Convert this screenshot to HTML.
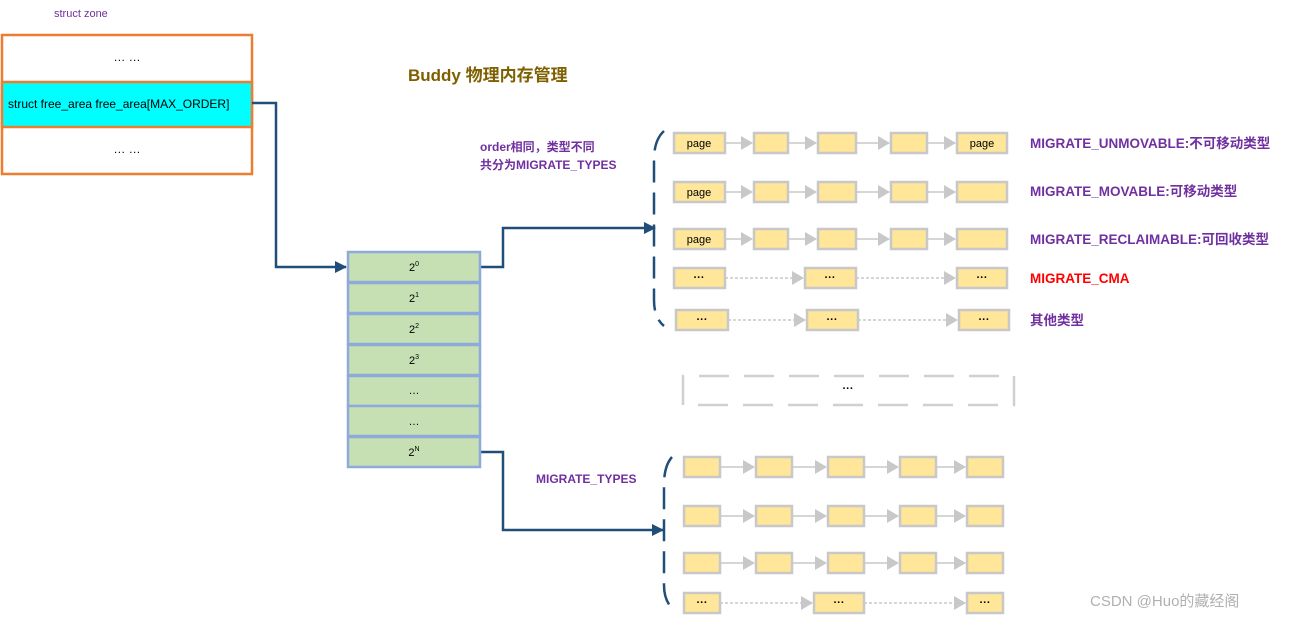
<!DOCTYPE html>
<html><head><meta charset="utf-8"><style>
html,body{margin:0;padding:0;background:#fff;width:1292px;height:618px;overflow:hidden}
text{font-family:"Liberation Sans","Noto Sans CJK SC",sans-serif}
</style></head><body>
<svg width="1292" height="618" viewBox="0 0 1292 618" xmlns="http://www.w3.org/2000/svg">
<defs>
<marker id="ab" markerWidth="12" markerHeight="12" refX="11" refY="6" orient="auto" markerUnits="userSpaceOnUse"><path d="M0,0 L12,6 L0,12 z" fill="#1f4e79"/></marker>
<marker id="ag" markerWidth="12" markerHeight="14" refX="11" refY="7" orient="auto" markerUnits="userSpaceOnUse"><path d="M0,0 L12,7 L0,14 z" fill="#c8c8c8"/></marker>
</defs>
<text x="54" y="17" font-size="11" fill="#7030a0">struct zone</text>
<rect x="2" y="35" width="250" height="139" fill="#fff" stroke="#ed7d31" stroke-width="2.5"/>
<rect x="2" y="82" width="250" height="45" fill="#00ffff" stroke="#ed7d31" stroke-width="2.5"/>
<text x="127" y="61" font-size="12" text-anchor="middle">… …</text>
<text x="127" y="153" font-size="12" text-anchor="middle">… …</text>
<text x="8" y="108" font-size="12">struct free_area  free_area[MAX_ORDER]</text>
<text x="408" y="81" font-size="17" font-weight="bold" fill="#7f6000">Buddy 物理内存管理</text>
<text x="480" y="151" font-size="12" font-weight="bold" fill="#7030a0">order相同，类型不同</text>
<text x="480" y="169" font-size="12" font-weight="bold" fill="#7030a0">共分为MIGRATE_TYPES</text>
<text x="536" y="483" font-size="12" font-weight="bold" fill="#7030a0">MIGRATE_TYPES</text>
<g fill="none" stroke="#1f4e79" stroke-width="2.5">
<path d="M252,103 H276 V267 H346" marker-end="url(#ab)"/>
<path d="M480,267 H503 V228 H655" marker-end="url(#ab)"/>
<path d="M480,452 H503 V530 H663" marker-end="url(#ab)"/>
<path d="M664,131 Q654,140 654,160 V300 Q654,318 664,326" stroke-dasharray="22,10"/>
<path d="M672,457 Q664,466 664,485 V585 Q664,600 672,608" stroke-dasharray="22,10"/>
</g>
<g stroke="#8eaadb" stroke-width="2.5" fill="#c6e0b4">
<rect x="348" y="252" width="132" height="30"/><rect x="348" y="283" width="132" height="30"/>
<rect x="348" y="314" width="132" height="30"/><rect x="348" y="345" width="132" height="30"/>
<rect x="348" y="376" width="132" height="30"/><rect x="348" y="406" width="132" height="30"/>
<rect x="348" y="437" width="132" height="30"/>
</g>
<g font-size="11" text-anchor="middle">
<text x="414" y="271">2<tspan font-size="7" dy="-5">0</tspan></text>
<text x="414" y="302">2<tspan font-size="7" dy="-5">1</tspan></text>
<text x="414" y="333">2<tspan font-size="7" dy="-5">2</tspan></text>
<text x="414" y="364">2<tspan font-size="7" dy="-5">3</tspan></text>
<text x="414" y="394">…</text><text x="414" y="425">…</text>
<text x="414" y="456">2<tspan font-size="7" dy="-5">N</tspan></text>
</g>
<g stroke="#c8c8c8" stroke-width="1.5" fill="none">
<path d="M725,143H752" marker-end="url(#ag)"/><path d="M788,143H816" marker-end="url(#ag)"/><path d="M856,143H889" marker-end="url(#ag)"/><path d="M927,143H955" marker-end="url(#ag)"/>
<path d="M725,192H752" marker-end="url(#ag)"/><path d="M788,192H816" marker-end="url(#ag)"/><path d="M856,192H889" marker-end="url(#ag)"/><path d="M927,192H955" marker-end="url(#ag)"/>
<path d="M725,239H752" marker-end="url(#ag)"/><path d="M788,239H816" marker-end="url(#ag)"/><path d="M856,239H889" marker-end="url(#ag)"/><path d="M927,239H955" marker-end="url(#ag)"/>
<path d="M725,278H803" stroke-dasharray="3,2" marker-end="url(#ag)"/><path d="M856,278H955" stroke-dasharray="3,2" marker-end="url(#ag)"/>
<path d="M728,320H805" stroke-dasharray="3,2" marker-end="url(#ag)"/><path d="M858,320H957" stroke-dasharray="3,2" marker-end="url(#ag)"/>
<path d="M720,467H754" marker-end="url(#ag)"/><path d="M792,467H826" marker-end="url(#ag)"/><path d="M864,467H898" marker-end="url(#ag)"/><path d="M936,467H965" marker-end="url(#ag)"/>
<path d="M720,516H754" marker-end="url(#ag)"/><path d="M792,516H826" marker-end="url(#ag)"/><path d="M864,516H898" marker-end="url(#ag)"/><path d="M936,516H965" marker-end="url(#ag)"/>
<path d="M720,563H754" marker-end="url(#ag)"/><path d="M792,563H826" marker-end="url(#ag)"/><path d="M864,563H898" marker-end="url(#ag)"/><path d="M936,563H965" marker-end="url(#ag)"/>
<path d="M720,603H812" stroke-dasharray="3,2" marker-end="url(#ag)"/><path d="M864,603H965" stroke-dasharray="3,2" marker-end="url(#ag)"/>
</g>
<g fill="#ffe699" stroke="#c8c8c8" stroke-width="2.5">
<rect x="674" y="133" width="51" height="20"/><rect x="754" y="133" width="34" height="20"/><rect x="818" y="133" width="38" height="20"/><rect x="891" y="133" width="36" height="20"/><rect x="957" y="133" width="50" height="20"/>
<rect x="674" y="182" width="51" height="20"/><rect x="754" y="182" width="34" height="20"/><rect x="818" y="182" width="38" height="20"/><rect x="891" y="182" width="36" height="20"/><rect x="957" y="182" width="50" height="20"/>
<rect x="674" y="229" width="51" height="20"/><rect x="754" y="229" width="34" height="20"/><rect x="818" y="229" width="38" height="20"/><rect x="891" y="229" width="36" height="20"/><rect x="957" y="229" width="50" height="20"/>
<rect x="674" y="268" width="51" height="20"/><rect x="805" y="268" width="51" height="20"/><rect x="957" y="268" width="50" height="20"/>
<rect x="676" y="310" width="52" height="20"/><rect x="807" y="310" width="51" height="20"/><rect x="959" y="310" width="50" height="20"/>
<rect x="684" y="457" width="36" height="20"/><rect x="756" y="457" width="36" height="20"/><rect x="828" y="457" width="36" height="20"/><rect x="900" y="457" width="36" height="20"/><rect x="967" y="457" width="36" height="20"/>
<rect x="684" y="506" width="36" height="20"/><rect x="756" y="506" width="36" height="20"/><rect x="828" y="506" width="36" height="20"/><rect x="900" y="506" width="36" height="20"/><rect x="967" y="506" width="36" height="20"/>
<rect x="684" y="553" width="36" height="20"/><rect x="756" y="553" width="36" height="20"/><rect x="828" y="553" width="36" height="20"/><rect x="900" y="553" width="36" height="20"/><rect x="967" y="553" width="36" height="20"/>
<rect x="684" y="593" width="36" height="20"/><rect x="814" y="593" width="50" height="20"/><rect x="967" y="593" width="36" height="20"/>
</g>
<g font-size="11" text-anchor="middle">
<text x="699" y="147">page</text><text x="982" y="147">page</text>
<text x="699" y="196">page</text><text x="699" y="243">page</text>
<g font-weight="bold">
<text x="699" y="281">···</text><text x="830" y="281">···</text><text x="982" y="281">···</text>
<text x="702" y="323">···</text><text x="832" y="323">···</text><text x="984" y="323">···</text>
<text x="702" y="606">···</text><text x="839" y="606">···</text><text x="985" y="606">···</text>
<text x="848" y="392">···</text>
</g>
</g>
<g font-size="13.5" font-weight="bold" fill="#7030a0">
<text x="1030" y="148">MIGRATE_UNMOVABLE:不可移动类型</text>
<text x="1030" y="196">MIGRATE_MOVABLE:可移动类型</text>
<text x="1030" y="244">MIGRATE_RECLAIMABLE:可回收类型</text>
<text x="1030" y="283" fill="#ff0000">MIGRATE_CMA</text>
<text x="1030" y="325">其他类型</text>
</g>
<path d="M683,405 V376 H1014 V405 H683" fill="none" stroke="#d0d0d0" stroke-width="2.5" stroke-dasharray="30,15"/>
<text x="1090" y="606" font-size="15" fill="#b0b0b0">CSDN @Huo的藏经阁</text>
</svg>
</body></html>
